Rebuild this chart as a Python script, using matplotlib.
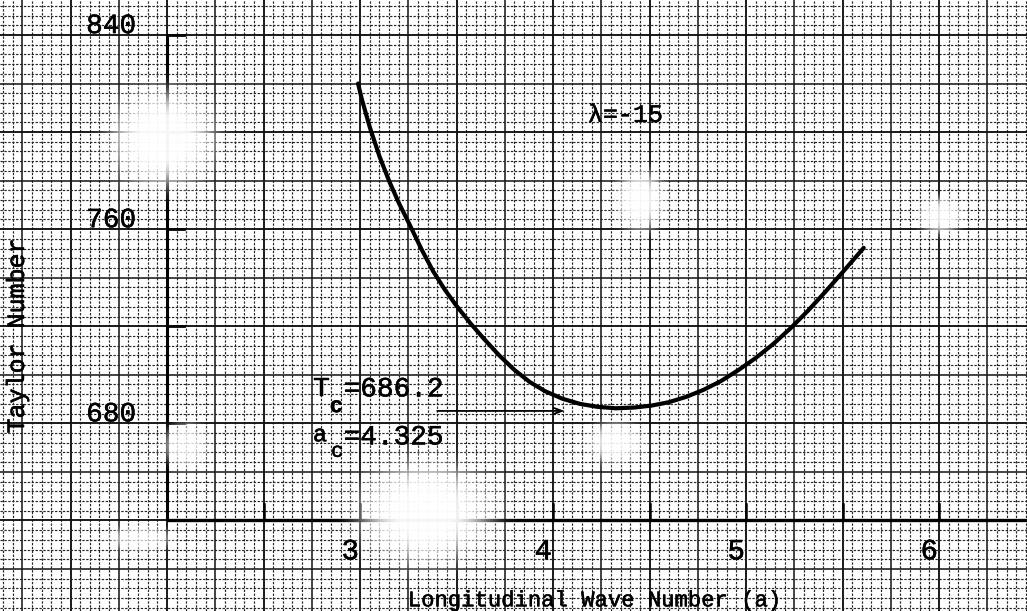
import numpy as np
import matplotlib
matplotlib.use("Agg")
import matplotlib.pyplot as plt
import matplotlib.patheffects as pe

# Neutral-stability curve: Taylor number vs longitudinal wave number (lambda = -15)
wave_number = [2.99, 3.01, 3.05, 3.10, 3.15, 3.20, 3.26, 3.32, 3.38, 3.44, 3.50, 3.57,
               3.64, 3.72, 3.80, 3.88, 3.96, 4.05, 4.14, 4.23, 4.325, 4.42, 4.51, 4.60,
               4.69, 4.78, 4.87, 4.96, 5.05, 5.14, 5.23, 5.32, 5.41, 5.50, 5.61]
taylor = [820, 813.4, 802.2, 790.2, 780, 771, 761.4, 751.5, 742.5, 735, 728.4, 721.4,
          715, 708.1, 702, 697, 693.2, 690.1, 688, 686.8, 686.2, 686.5, 687.3, 688.7,
          690.9, 693.8, 697.4, 701.9, 706.9, 712.6, 719.1, 726.3, 734.1, 742.2, 752.3]

a_crit = 4.325
T_crit = 686.2

x_tick_values = [3, 4, 5, 6]
x_tick_labels = ["3", "4", "5", "6"]
y_tick_values = [840, 760, 680]
y_tick_labels = ["840", "760", "680"]

W, H = 1027, 611
PX_X = 193.0     # pixels per unit of wave number
PX_Y = 2.427     # pixels per unit of Taylor number
xmin = 2.0 - 167 / PX_X
xmax = xmin + W / PX_X
ymax = 840 + 35 / PX_Y
ymin = ymax - H / PX_Y

MONO = "Liberation Mono"
INK = [pe.withStroke(linewidth=0.35, foreground="black")]

fig = plt.figure(figsize=(W / 100, H / 100), dpi=100)
ax = fig.add_axes([0, 0, 1, 1])
ax.set_xlim(xmin, xmax)
ax.set_ylim(ymin, ymax)
ax.axis("off")
fig.patch.set_facecolor("white")

# graph-paper ruling
for k in range(int(np.ceil(xmin / 0.05)), int(np.floor(xmax / 0.05)) + 1):
    v = k * 0.05
    if k % 10 == 0:
        ax.axvline(v, color="#111111", lw=1.35, zorder=1)
    elif k % 5 == 0:
        ax.axvline(v, color="#1a1a1a", lw=1.15, zorder=1)
    else:
        ax.axvline(v, color="#262626", lw=0.85, ls=(0, (2.0, 1.3)), zorder=1)
for k in range(int(np.ceil(ymin / 4)), int(np.floor(ymax / 4)) + 1):
    v = k * 4
    if k % 10 == 0:
        ax.axhline(v, color="#111111", lw=1.35, zorder=1)
    elif k % 5 == 0:
        ax.axhline(v, color="#1a1a1a", lw=1.15, zorder=1)
    else:
        ax.axhline(v, color="#262626", lw=0.85, ls=(0, (2.0, 1.3)), zorder=1)

# hand-drawn axes
ax.plot([2, 2], [640, 840], color="black", lw=2.2, solid_capstyle="butt", zorder=2)
ax.plot([2, xmax], [640, 640], color="black", lw=2.4, solid_capstyle="butt", zorder=2)
for t in [840, 800, 760, 720, 680]:
    ax.plot([2, 2 + 17 / PX_X], [t, t], color="black", lw=2.0, zorder=2)
for a in np.arange(2.5, xmax, 0.5):
    ax.plot([a, a], [640, 640 + 16 / PX_Y], color="black", lw=1.8, zorder=2)

# faded patches of the sheet
yy, xx = np.mgrid[0:H, 0:W]
alpha = np.zeros((H, W))
patches = [(162, 138, 52, 48, 1.0), (425, 512, 66, 50, 1.0), (185, 445, 22, 22, 0.8),
           (640, 200, 24, 30, 0.95), (940, 215, 22, 18, 0.9), (615, 442, 28, 20, 0.9),
           (140, 538, 32, 12, 0.7)]
for cx, cy, rx, ry, s in patches:
    r2 = ((xx - cx) / rx) ** 2 + ((yy - cy) / ry) ** 2
    alpha = np.maximum(alpha, s * np.exp(-r2 ** 2))
overlay = np.ones((H, W, 4))
overlay[..., 3] = np.clip(alpha, 0, 0.97)
ax.imshow(overlay, extent=(xmin, xmax, ymin, ymax), origin="upper",
          aspect="auto", interpolation="bilinear", zorder=2.5)
ax.set_xlim(xmin, xmax)
ax.set_ylim(ymin, ymax)

# the curve
ax.plot(wave_number, taylor, color="black", lw=3.0, solid_joinstyle="round",
        solid_capstyle="round", zorder=3)


def label(x, y, s, size, **kw):
    ax.text(x, y, s, fontsize=size, family=MONO, path_effects=INK, zorder=4, **kw)


# tick labels
for v, lab in zip(y_tick_values, y_tick_labels):
    label(2 - 31 / PX_X, v + 0.8, lab, 20, ha="right", va="baseline")
for v, lab in zip(x_tick_values, x_tick_labels):
    label(v - 1 / PX_X, 624, lab, 21, ha="right", va="baseline")

# axis titles
label(2 - 150 / PX_X, 716, "Taylor Number", 18, rotation=90, ha="center", va="center")
label(4.218, 604.6, "Longitudinal Wave Number (a)", 16, ha="center", va="baseline")

# parameter and critical values
label(4.181, 804.2, "λ=-15", 18, ha="left", va="baseline")
label(2.756, 691.1, "T", 20, ha="left", va="baseline")
label(2.843, 684.6, "c", 16, ha="left", va="baseline", fontweight="bold")
label(2.915, 691.1, f"={T_crit}", 20, ha="left", va="baseline")
label(2.756, 672.6, "a", 17, ha="left", va="baseline")
label(2.850, 666.2, "c", 15, ha="left", va="baseline")
label(2.915, 671.3, f"={a_crit}", 20, ha="left", va="baseline")
ax.annotate("", xy=(4.06, 685.1), xytext=(3.40, 685.1),
            arrowprops=dict(arrowstyle="->,head_length=0.6,head_width=0.22",
                            color="black", lw=1.3, shrinkA=0, shrinkB=0), zorder=4)

fig.savefig("out.png", dpi=100, facecolor="white")
